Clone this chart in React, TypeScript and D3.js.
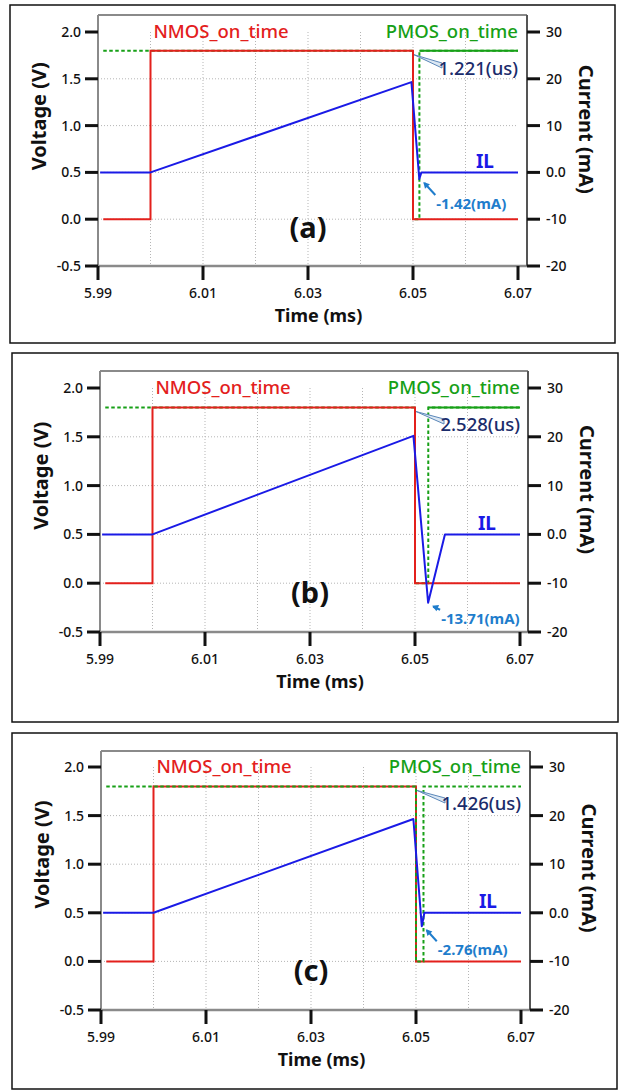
import React from "react";
import * as d3 from "d3";

// ---------- data ----------
const xTicks = [5.99, 6.01, 6.03, 6.05, 6.07];
const xGrid = [6.0, 6.01, 6.02, 6.03, 6.04, 6.05, 6.06];
const vTicks = [-0.5, 0.0, 0.5, 1.0, 1.5, 2.0];
const iTicks = [-20, -10, 0, 10, 20, 30];
const vGrid = [0.0, 0.5, 1.0, 1.5];

const panelLabels = ["(a)", "(b)", "(c)"];

// NMOS gate signal (V)
const nmosT = [5.991, 6.0, 6.0, 6.05, 6.05, 6.07];
const nmosV = [0, 0, 1.8, 1.8, 0, 0];

// PMOS gate signal: on-time delay after 6.05 ms (us)
const pmosDelayUs = [1.221, 2.528, 1.426];
const pmosV = [1.8, 1.8, 1.8, 0, 0, 1.8, 1.8];

// Inductor current IL (mA)
const ilT_a = [5.9904, 6.0, 6.0497, 6.0512, 6.0516, 6.07];
const ilI_a = [0, 0, 19.3, -1.42, 0, 0];
const ilT_b = [5.9904, 6.0, 6.0497, 6.0525, 6.0557, 6.07];
const ilI_b = [0, 0, 20.2, -14.0, 0, 0];
const ilT_c = [5.9904, 6.0, 6.0495, 6.0511, 6.0516, 6.07];
const ilI_c = [0, 0, 19.3, -2.76, 0, 0];

const ilMinLabels = ["-1.42(mA)", "-13.71(mA)", "-2.76(mA)"];

// ---------- layout ----------
const layouts = [
  { box: [10, 5, 605, 338], x0: 98, x1: 518, xr: 527, yb: 266, yt: 32, ft: 15, lab: [17, 30], pmosSolid: true, pmosTop: false },
  { box: [12, 353, 606, 369], x0: 100, x1: 520, xr: 528, yb: 632, yt: 388, ft: 371, lab: [13, 21], pmosSolid: true, pmosTop: false },
  { box: [12, 733, 605, 356], x0: 101, x1: 521, xr: 530, yb: 1010, yt: 767, ft: 751, lab: [16, 29], pmosSolid: false, pmosTop: true },
];

const ilT = [ilT_a, ilT_b, ilT_c];
const ilI = [ilI_a, ilI_b, ilI_c];

const RED = "#e3201c";
const GREEN = "#17a017";
const BLUE = "#1a1ae6";
const NAVY = "#1b2c6b";
const LBLUE = "#1f7dcc";
const FONT = "'Noto Sans', 'Open Sans', sans-serif";

function Panel({ idx }: { idx: number }) {
  const L = layouts[idx];
  const x = d3.scaleLinear().domain([5.99, 6.07]).range([L.x0, L.x1]);
  const yV = d3.scaleLinear().domain([-0.5, 2.0]).range([L.yb, L.yt]);
  const yI = d3.scaleLinear().domain([-20, 30]).range([L.yb, L.yt]);
  const [bx, by, bw, bh] = L.box;

  const lineV = d3.line<[number, number]>().x((d) => x(d[0])).y((d) => yV(d[1]));
  const lineI = d3.line<[number, number]>().x((d) => x(d[0])).y((d) => yI(d[1]));

  const tp = 6.05 + pmosDelayUs[idx] / 1000;
  const pmosT = [5.991, 6.0, 6.05, 6.05, tp, tp, 6.07];
  const nmosPts = nmosT.map((t, i) => [t, nmosV[i]] as [number, number]);
  const pmosPts = pmosT.map((t, i) => [t, pmosV[i]] as [number, number]);
  const ilPts = ilT[idx].map((t, i) => [t, ilI[idx][i]] as [number, number]);

  let mi = 0;
  ilI[idx].forEach((v, i) => { if (v < ilI[idx][mi]) mi = i; });
  const minX = x(ilT[idx][mi]);
  const minY = yI(ilI[idx][mi]);
  const labX = minX + L.lab[0];
  const labY = minY + L.lab[1];

  const dashes = "3.5,2.5";
  const pmosDashed = (
    <path d={lineV(pmosPts) || ""} fill="none" stroke={GREEN} strokeWidth={2} strokeDasharray={dashes} />
  );
  const pmosSolidPath = L.pmosSolid ? (
    <path d={lineV([[tp, 1.8], [6.07, 1.8]]) || ""} fill="none" stroke={GREEN} strokeWidth={2} />
  ) : null;

  const delayTx = x(6.07);
  const delayTy = yV(2.0) + 43;
  const delayText = `${pmosDelayUs[idx].toFixed(3)}(us)`;
  const dW = 76;
  const px0 = x(6.05) + 1;
  const py0 = yV(1.8) + 4;

  const plotCenterX = (L.x0 + L.xr) / 2;
  const ang = Math.atan2(labY - 14 - (minY + 4), labX - 1 - (minX + 5));
  const hx = minX + 4, hy = minY + 3;
  const hl = 7, hw = 0.5;
  const head = `M${hx},${hy} L${hx + hl * Math.cos(ang + hw)},${hy + hl * Math.sin(ang + hw)} L${hx + hl * Math.cos(ang - hw)},${hy + hl * Math.sin(ang - hw)} Z`;

  return (
    <g>
      <rect x={bx} y={by} width={bw} height={bh} fill="#fff" stroke="#111" strokeWidth={1.5} />
      {xGrid.map((t) => (
        <line key={"gx" + t} x1={x(t)} x2={x(t)} y1={yV(2.0)} y2={L.yb} stroke="#b5b5b5" strokeWidth={1} strokeDasharray="1,2" />
      ))}
      {vGrid.map((v) => (
        <line key={"gy" + v} x1={L.x0} x2={x(6.07)} y1={yV(v)} y2={yV(v)} stroke="#b5b5b5" strokeWidth={1} strokeDasharray="1,2" />
      ))}
      <line x1={L.x0} x2={L.xr} y1={L.ft} y2={L.ft} stroke="#8a8a8a" strokeWidth={2} />
      <line x1={L.x0} x2={L.x0} y1={L.ft} y2={L.yb} stroke="#8a8a8a" strokeWidth={2} />
      <line x1={L.x0} x2={L.xr} y1={L.yb} y2={L.yb} stroke="#8a8a8a" strokeWidth={2.5} />
      <line x1={L.xr} x2={L.xr} y1={L.ft} y2={L.yb} stroke="#555" strokeWidth={2} />

      {xTicks.map((t) => (
        <g key={"xt" + t}>
          <line x1={x(t)} x2={x(t)} y1={L.yb} y2={L.yb + 14} stroke="#111" strokeWidth={3} />
          <text x={x(t)} y={L.yb + 32} textAnchor="middle" fontSize={14} fontWeight={500} fontFamily={FONT} fill="#111">{t.toFixed(2)}</text>
        </g>
      ))}
      {vTicks.map((v) => (
        <g key={"vt" + v}>
          <line x1={L.x0 - 13} x2={L.x0} y1={yV(v)} y2={yV(v)} stroke="#111" strokeWidth={3} />
          <text x={L.x0 - 17} y={yV(v) + 5} textAnchor="end" fontSize={14} fontWeight={500} fontFamily={FONT} fill="#111">{v.toFixed(1)}</text>
        </g>
      ))}
      {iTicks.map((v) => (
        <g key={"it" + v}>
          <line x1={L.xr} x2={L.xr + 13} y1={yI(v)} y2={yI(v)} stroke="#111" strokeWidth={3} />
          <text x={L.xr + 19} y={yI(v) + 5} textAnchor="start" fontSize={14} fontWeight={500} fontFamily={FONT} fill="#111">{v === 0 ? "0.0" : String(v)}</text>
        </g>
      ))}

      <text transform={`translate(${L.x0 - 52},${yV(1.1)}) rotate(-90)`} textAnchor="middle" fontSize={20} fontWeight="bold" fontFamily={FONT} fill="#111">Voltage (V)</text>
      <text transform={`translate(${L.xr + 52},${yV(0.96)}) rotate(90)`} textAnchor="middle" fontSize={20} fontWeight="bold" fontFamily={FONT} fill="#111">Current (mA)</text>
      <text x={plotCenterX + 6} y={L.yb + 56} textAnchor="middle" fontSize={18} fontWeight="bold" fontFamily={FONT} fill="#111">Time (ms)</text>

      {!L.pmosTop && pmosDashed}
      {pmosSolidPath}
      <path d={lineV(nmosPts) || ""} fill="none" stroke={RED} strokeWidth={2} />
      {L.pmosTop && pmosDashed}
      <path d={lineI(ilPts) || ""} fill="none" stroke={BLUE} strokeWidth={2} strokeLinejoin="round" />

      <text x={x(6.0) + 3} y={yV(2.0) + 6} fontSize={18.5} fontWeight={500} fontFamily={FONT} fill={RED}>NMOS_on_time</text>
      <text x={x(6.07)} y={yV(2.0) + 6} textAnchor="end" fontSize={18.5} fontWeight={500} fontFamily={FONT} fill={GREEN}>PMOS_on_time</text>

      <polygon
        points={`${px0},${py0} ${delayTx - dW},${delayTy - 12} ${delayTx - dW},${delayTy - 7}`}
        fill="#dbe7f3" stroke="#5b87b9" strokeWidth={1}
      />
      <text x={delayTx} y={delayTy} textAnchor="end" fontSize={18.5} fontWeight={500} fontFamily={FONT} fill={NAVY}>{delayText}</text>

      <text x={x(6.0637)} y={yI(1)} textAnchor="middle" fontSize={19} fontWeight="bold" fontFamily={FONT} fill={BLUE}>IL</text>

      <line x1={labX - 1} y1={labY - 14} x2={minX + 5} y2={minY + 4} stroke={LBLUE} strokeWidth={2} />
      <path d={head} fill={LBLUE} />
      <text x={labX} y={labY} fontSize={15} fontWeight="bold" fontFamily={FONT} fill={LBLUE}>{ilMinLabels[idx]}</text>

      <text x={x(6.03)} y={yV(-0.2)} textAnchor="middle" fontSize={29} fontWeight="bold" fontFamily={FONT} fill="#111">{panelLabels[idx]}</text>
    </g>
  );
}

export default function App() {
  return (
    <div style={{ position: "absolute", left: 0, top: 0 }}>
      <svg width={625} height={1092} style={{ display: "block", background: "#fff" }}>
        <rect x={0} y={0} width={625} height={1092} fill="#fff" />
        {[0, 1, 2].map((i) => (
          <Panel key={i} idx={i} />
        ))}
      </svg>
    </div>
  );
}
